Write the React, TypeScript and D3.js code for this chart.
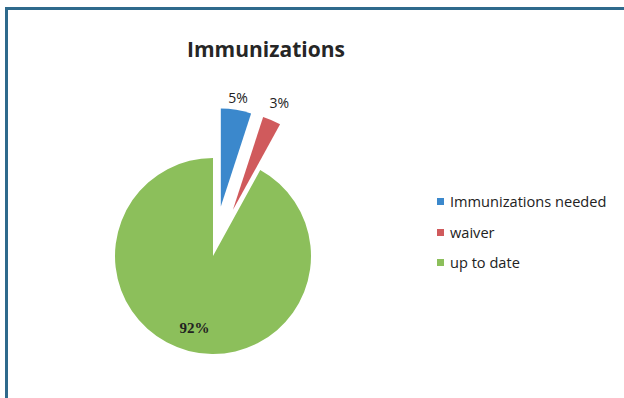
import React from "react";
import * as d3 from "d3";

const categories = ["Immunizations needed", "waiver", "up to date"];
const values = [5, 3, 92];
const labels = ["5%", "3%", "92%"];
const colors = ["#3b88cc", "#d05a5c", "#8cbf5b"];

const W = 624;
const H = 398;
const cx = 213;
const cy = 256;
const R = 98;
const explode = [50, 50, 0];
const labelRadius = [110, 117, 74];

export default function App() {
  const pie = d3.pie<number>().sort(null).value((d) => d);
  const arcs = pie(values);
  const arc = d3.arc<d3.PieArcDatum<number>>().innerRadius(0).outerRadius(R);

  return (
    <div style={{ position: "fixed", left: 0, top: 0 }}>
      <svg width={W} height={H} style={{ display: "block", background: "#fff" }}>
        {/* frame */}
        <line x1={6.5} y1={8} x2={6.5} y2={H} stroke="#2f6a8c" strokeWidth={3} />
        <line x1={5} y1={8.5} x2={W} y2={8.5} stroke="#2f6a8c" strokeWidth={3} />

        <text
          x={266}
          y={57}
          textAnchor="middle"
          fontFamily="Open Sans, sans-serif"
          fontWeight={700}
          fontSize={21}
          fill="#262626"
        >
          Immunizations
        </text>

        <g transform={`translate(${cx},${cy})`}>
          {arcs.map((a, i) => {
            const mid = (a.startAngle + a.endAngle) / 2;
            const dx = Math.sin(mid) * explode[i];
            const dy = -Math.cos(mid) * explode[i];
            return (
              <path
                key={categories[i]}
                d={arc(a) || ""}
                transform={`translate(${dx},${dy})`}
                fill={colors[i]}
              />
            );
          })}
          {arcs.map((a, i) => {
            const mid = (a.startAngle + a.endAngle) / 2;
            const rr = explode[i] + labelRadius[i];
            const lx = Math.sin(mid) * rr;
            const ly = -Math.cos(mid) * rr;
            return (
              <text
                key={"l" + i}
                x={lx}
                y={ly}
                dy="0.35em"
                textAnchor="middle"
                fontFamily={i === 2 ? "Liberation Serif, serif" : "Open Sans, sans-serif"}
                fontWeight={i === 2 ? 700 : 400}
                fontSize={i === 2 ? 15 : 14}
                fill="#222"
              >
                {labels[i]}
              </text>
            );
          })}
        </g>

        <g transform="translate(437,0)">
          {categories.map((c, i) => {
            const y = [202, 233, 263][i];
            return (
              <g key={c}>
                <rect x={0} y={y - 4} width={7} height={7} fill={colors[i]} />
                <text
                  x={13}
                  y={y}
                  dy="0.35em"
                  fontFamily="Open Sans, sans-serif"
                  fontSize={14.6}
                  fill="#222"
                >
                  {c}
                </text>
              </g>
            );
          })}
        </g>
      </svg>
    </div>
  );
}
